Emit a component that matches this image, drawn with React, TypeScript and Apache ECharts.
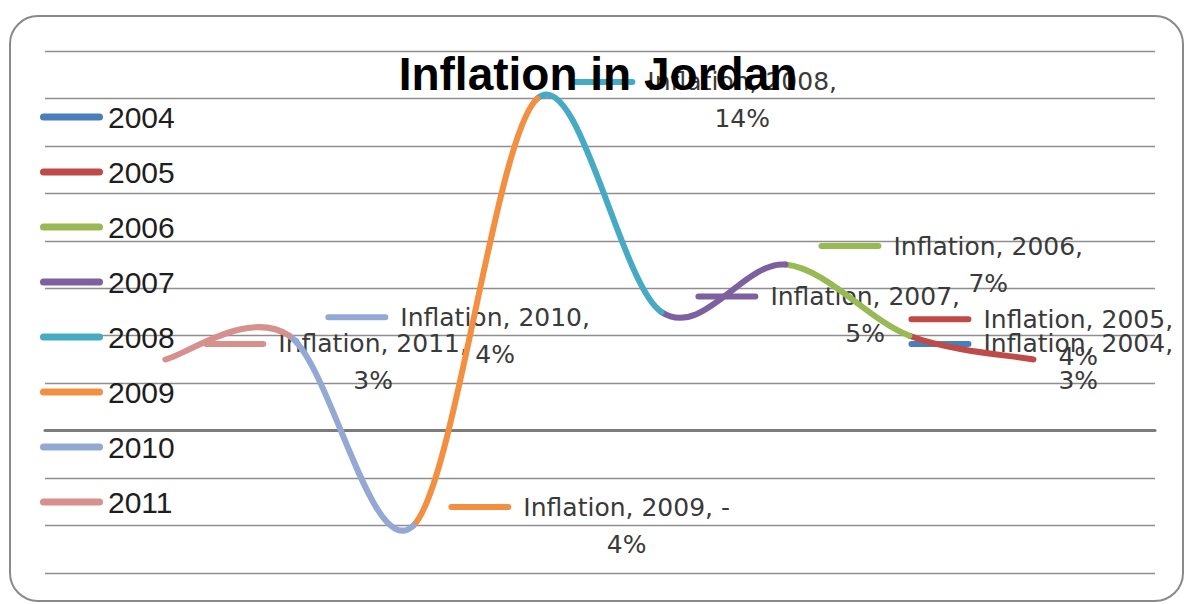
import { useEffect, useRef } from 'react';
import * as echarts from 'echarts';

// Annual inflation (%), ordered by year
const years = ['2004', '2005', '2006', '2007', '2008', '2009', '2010', '2011'];
const inflation = [3, 4, 7, 5, 14, -4, 4, 3];
const yearColors = ['#4A7EBB', '#BE4B48', '#98B954', '#7D60A0', '#46AAC5', '#F38F40', '#93A9D4', '#D6908E'];

// value axis ticks (percent)
const yMin = -6;
const yMax = 16;
const yStep = 2;

// where each data label sits relative to its point: [dx, dy] to the label's top-left
const labelOffsets: number[][] = [
  [-125, -34],
  [-1, -35],
  [33, -37],
  [34, -34],
  [35, -35],
  [35, -37],
  [36, -37],
  [38, -34],
];

const LABEL_FONT = '"DejaVu Sans", Verdana, sans-serif';
const LEGEND_ICON =
  'path://M3.5,0H59.5A3.5,3.5,0,0,1,59.5,7H3.5A3.5,3.5,0,0,1,3.5,0Z';

function labelText(i: number): string {
  const v = inflation[i];
  const first = `Inflation, ${years[i]},${v < 0 ? ' -' : ''}`;
  return `{k|}{g|}{t|${first}}{r|}\n{p|${Math.abs(v)}%}`;
}

function buildOption(): echarts.EChartsOption {
  const n = inflation.length;

  // smooth segment from year k to year k-1 (drawn right-to-left on the reversed axis),
  // coloured by year k; Catmull-Rom control points from the neighbouring years
  const renderSegment = (params: any, api: any) => {
    const k = params.dataIndex;
    if (k === 0) return { type: 'group', children: [] };
    const pt = (i: number) => api.coord([i, inflation[i]]);
    const p0 = pt(Math.min(k + 1, n - 1));
    const p1 = pt(k);
    const p2 = pt(k - 1);
    const p3 = pt(Math.max(k - 2, 0));
    return {
      type: 'bezierCurve',
      shape: {
        x1: p1[0],
        y1: p1[1],
        cpx1: p1[0] + (p2[0] - p0[0]) / 6,
        cpy1: p1[1] + (p2[1] - p0[1]) / 6,
        cpx2: p2[0] - (p3[0] - p1[0]) / 6,
        cpy2: p2[1] - (p3[1] - p1[1]) / 6,
        x2: p2[0],
        y2: p2[1],
      },
      style: { stroke: yearColors[k], lineWidth: 6, fill: 'none', lineCap: 'round' },
    };
  };

  const yearSeries = years.map((y, i) => ({
    type: 'scatter' as const,
    name: y,
    z: 1,
    silent: true,
    data: [[i, inflation[i]]],
    symbolSize: 0,
    itemStyle: { color: yearColors[i], opacity: 1 },
    label: {
      show: true,
      position: labelOffsets[i] as [number, number],
      align: 'left' as const,
      verticalAlign: 'top' as const,
      formatter: () => labelText(i),
      rich: {
        k: { width: 63, height: 6, backgroundColor: yearColors[i], borderRadius: 3, align: 'left' as const },
        g: { width: 12, align: 'left' as const },
        t: {
          fontFamily: LABEL_FONT,
          fontSize: 25,
          color: '#3a3a3a',
          lineHeight: 37,
          align: 'left' as const,
        },
        r: { width: 75, align: 'left' as const },
        p: {
          fontFamily: LABEL_FONT,
          fontSize: 25,
          color: '#3a3a3a',
          lineHeight: 37,
          align: 'center' as const,
        },
      },
    },
  }));

  return {
    animation: false,
    backgroundColor: '#ffffff',
    grid: { left: 45, right: 31, top: 51, bottom: 31 },
    xAxis: {
      type: 'value',
      inverse: true,
      min: -0.98,
      max: 7.97,
      axisLine: { show: true, onZero: true, lineStyle: { color: '#7c7c7c', width: 3 } },
      axisTick: { show: false },
      axisLabel: { show: false },
      splitLine: { show: false },
    },
    yAxis: {
      type: 'value',
      min: yMin,
      max: yMax,
      interval: yStep,
      axisLine: { show: false },
      axisTick: { show: false },
      axisLabel: { show: false },
      splitLine: { show: true, lineStyle: { color: '#8e8e8e', width: 1.3 } },
    },
    legend: {
      data: years,
      orient: 'vertical',
      left: 40,
      top: 100,
      padding: 0,
      icon: LEGEND_ICON,
      itemWidth: 63,
      itemHeight: 7,
      itemGap: 21,
      selectedMode: false,
      itemStyle: { opacity: 1 },
      textStyle: {
        fontFamily: '"Liberation Sans", Arial, sans-serif',
        fontSize: 30,
        lineHeight: 34,
        color: '#1e1e1e',
      },
    },
    graphic: [
      {
        type: 'rect',
        x: 10,
        y: 16,
        z: 0,
        silent: true,
        shape: { width: 1173, height: 585, r: 28 },
        style: { fill: 'none', stroke: '#8a8a8a', lineWidth: 2 },
      },
      {
        type: 'text',
        x: 598,
        y: 74,
        z: 100,
        silent: true,
        style: {
          text: 'Inflation in Jordan',
          font: 'bold 46px "Liberation Sans", Arial, sans-serif',
          fill: '#000000',
          align: 'center',
          verticalAlign: 'middle',
        },
      },
    ],
    series: [
      {
        type: 'custom',
        name: 'Inflation',
        z: 3,
        silent: true,
        clip: false,
        encode: { x: 0, y: 1 },
        data: inflation.map((v, i) => [i, v]),
        renderItem: renderSegment,
      } as any,
      ...yearSeries,
    ],
  };
}

export default function App() {
  const ref = useRef<HTMLDivElement>(null);

  useEffect(() => {
    if (!ref.current) return;
    const chart = echarts.init(ref.current, undefined, { renderer: 'svg' });
    chart.setOption(buildOption());
    return () => chart.dispose();
  }, []);

  return (
    <div
      ref={ref}
      style={{ position: 'fixed', left: 0, top: 0, width: 1186, height: 604, background: '#fff' }}
    />
  );
}
